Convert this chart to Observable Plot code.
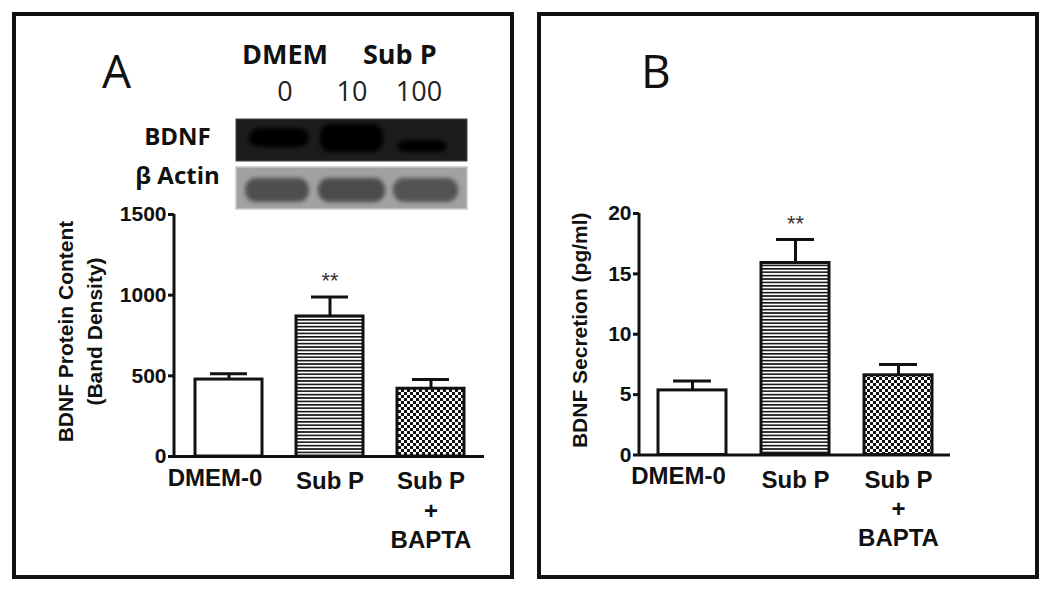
<!DOCTYPE html>
<html><head><meta charset="utf-8">
<script src="https://cdn.jsdelivr.net/npm/d3@7"></script>
<script src="https://cdn.jsdelivr.net/npm/@observablehq/plot@0.6"></script>
<style>
html,body{margin:0;padding:0;background:#fff;}
#root{position:relative;width:1050px;height:591px;overflow:hidden;background:#fff;}
.panel{position:absolute;box-sizing:border-box;border:4px solid #111;top:12px;width:502px;height:567px;}
.letter{position:absolute;font-family:"Open Sans","Noto Sans",sans-serif;font-size:46px;line-height:46px;color:#111;}
.chart{position:absolute;}
</style></head><body>
<div id="root">
<svg width="0" height="0" style="position:absolute">
<defs>
<pattern id="hstripes" patternUnits="userSpaceOnUse" width="8" height="3.4"><rect width="8" height="3.4" fill="#fff"/><rect width="8" height="1.6" fill="#111"/></pattern>
<pattern id="checker" patternUnits="userSpaceOnUse" width="6" height="6"><rect width="6" height="6" fill="#fff"/><rect width="3" height="3" fill="#111"/><rect x="3" y="3" width="3" height="3" fill="#111"/></pattern>
<filter id="soft" x="-20%" y="-50%" width="140%" height="200%"><feGaussianBlur stdDeviation="2.2"/></filter>
</defs></svg>
<div class="panel" style="left:12px"></div>
<div class="panel" style="left:537px"></div>
<div class="letter" style="left:102px;top:47px">A</div>
<div class="letter" style="left:641px;top:47px">B</div>
<div id="blot" class="chart" style="left:120px;top:20px"></div>
<div id="chartA" class="chart" style="left:20px;top:200px"></div>
<div id="chartB" class="chart" style="left:540px;top:200px"></div>
</div>
<script>
// ---- data ----
const categories = ["DMEM-0", "Sub P", "Sub P\n+\nBAPTA"];
const proteinMean = [477, 868, 420];
const proteinSem = [36, 120, 57];
const secretionMean = [5.35, 15.9, 6.6];
const secretionSem = [0.77, 1.95, 0.9];
const significance = ["", "**", ""];
const proteinTicks = [0, 500, 1000, 1500];
const secretionTicks = [0, 5, 10, 15, 20];
const proteinLabel = "BDNF Protein Content\n(Band Density)";
const secretionLabel = "BDNF Secretion (pg/ml)";
const blotLanes = ["0", "10", "100"];
const blotRows = ["BDNF", "β Actin"];
const blotGroups = ["DMEM", "Sub P"];

const fills = ["#ffffff", "url(#hstripes)", "url(#checker)"];

function yAxisLine(yMax) {
  return (index, scales, values, dims) => {
    const ns = "http://www.w3.org/2000/svg";
    const l = document.createElementNS(ns, "line");
    const x = dims.marginLeft;
    const y0 = typeof scales.y === "function" ? scales.y(0) : dims.height - dims.marginBottom;
    const y1 = typeof scales.y === "function" ? scales.y(yMax) : dims.marginTop;
    l.setAttribute("x1", x); l.setAttribute("x2", x);
    l.setAttribute("y1", y0 + 1.5); l.setAttribute("y2", y1);
    l.setAttribute("stroke", "#111"); l.setAttribute("stroke-width", 3);
    return l;
  };
}

function barChart({means, sems, ticks, label, labelDx, dims, pad}) {
  const data = categories.map((c, i) => ({cat: c, mean: means[i], sem: sems[i], sig: significance[i]}));
  const yMax = ticks[ticks.length - 1];
  return Plot.plot({
    width: dims.width, height: dims.height,
    marginLeft: dims.ml, marginRight: dims.mr, marginTop: dims.mt, marginBottom: dims.mb,
    style: {background: "transparent", fontFamily: "'Liberation Sans', Arial, sans-serif", fontWeight: "bold", fontSize: "21px", color: "#111", overflow: "visible"},
    x: {type: "band", domain: categories, paddingInner: pad.inner, paddingOuter: pad.outer, axis: null},
    y: {domain: [0, yMax], axis: null},
    color: {type: "ordinal", domain: categories, range: fills},
    marks: [
      Plot.ruleX(data, {x: "cat", y1: "mean", y2: d => d.mean + d.sem, stroke: "#111", strokeWidth: 3}),
      Plot.tickY(data, {x: "cat", y: d => d.mean + d.sem, stroke: "#111", strokeWidth: 3, insetLeft: 15, insetRight: 15}),
      Plot.barY(data, {x: "cat", y: "mean", fill: "cat", stroke: "#111", strokeWidth: 3}),
      Plot.ruleY([0], {stroke: "#111", strokeWidth: 3}),
      yAxisLine(yMax),
      Plot.axisY({ticks, tickFormat: d3.format("d"), tickSize: 6, tickPadding: 2, strokeWidth: 3, label: null, fontSize: 21, fontWeight: "bold"}),
      Plot.text([label], {text: d => d, frameAnchor: "left", rotate: -90, dx: labelDx, dy: -4, textAnchor: "middle", lineAnchor: "middle", lineHeight: 1.38, fontSize: 21, fontWeight: "bold", fill: "#111"}),
      Plot.text(data.slice(0, 1), {x: "cat", text: "cat", frameAnchor: "bottom", lineAnchor: "top", dy: 12, dx: -14, fontSize: 24, fontWeight: "bold", fill: "#111"}),
      Plot.text(data.slice(1), {x: "cat", text: "cat", frameAnchor: "bottom", lineAnchor: "top", dy: 12, lineHeight: 1.22, fontSize: 24, fontWeight: "bold", fill: "#111"}),
      Plot.text(data, {x: "cat", y: d => d.mean + d.sem, text: "sig", dy: -16, lineAnchor: "middle", fontSize: 22, fontWeight: "normal", fill: "#333"})
    ]
  });
}

document.getElementById("chartA").append(barChart({
  means: proteinMean, sems: proteinSem, ticks: proteinTicks, label: proteinLabel, labelDx: -96,
  dims: {width: 480, height: 370, ml: 154, mr: 16, mt: 14, mb: 114},
  pad: {inner: 0.34, outer: 0.19}
}));
document.getElementById("chartB").append(barChart({
  means: secretionMean, sems: secretionSem, ticks: secretionTicks, label: secretionLabel, labelDx: -62,
  dims: {width: 460, height: 370, ml: 99, mr: 50, mt: 13, mb: 115.5},
  pad: {inner: 0.344, outer: 0.172}
}));

// ---- western blot inset ----
function band(lane, row, fill, ins) {
  return Plot.cell([lane], {x: d => d, y: () => row, fill, rx: 11, ...ins});
}
const blot = Plot.plot({
  width: 360, height: 200, marginLeft: 116, marginRight: 13, marginTop: 99, marginBottom: 11,
  style: {background: "transparent", fontFamily: "'Open Sans', 'Noto Sans', sans-serif", color: "#111", overflow: "visible"},
  x: {type: "band", domain: blotLanes, paddingInner: 0, paddingOuter: 0.2, axis: null},
  y: {type: "band", domain: blotRows, paddingInner: 0.125, paddingOuter: 0, axis: null},
  marks: [
    Plot.cell([blotRows[0]], {y: d => d, fill: "#1c1c1c", stroke: "#444", strokeWidth: 1}),
    Plot.cell([blotRows[1]], {y: d => d, fill: "#a2a2a2", stroke: "#c9c9c9", strokeWidth: 1.5}),
    band(blotLanes[0], blotRows[0], "#020202", {insetLeft: -2, insetRight: 9, insetTop: 9, insetBottom: 14}),
    band(blotLanes[1], blotRows[0], "#000000", {insetLeft: 2, insetRight: 2, insetTop: 5, insetBottom: 9}),
    band(blotLanes[2], blotRows[0], "#030303", {insetLeft: 12, insetRight: 5, insetTop: 21, insetBottom: 9}),
    band(blotLanes[0], blotRows[1], "#505050", {insetLeft: -6, insetRight: 9, insetTop: 11, insetBottom: 7}),
    band(blotLanes[1], blotRows[1], "#4c4c4c", {insetLeft: 0, insetRight: 0, insetTop: 11, insetBottom: 7}),
    band(blotLanes[2], blotRows[1], "#535353", {insetLeft: 8, insetRight: -6, insetTop: 11, insetBottom: 7}),
    Plot.text([blotRows[0]], {y: d => d, text: d => d, frameAnchor: "left", dx: -59, dy: -3, textAnchor: "middle", lineAnchor: "middle", fontSize: 24, fontWeight: "bold", fill: "#111"}),
    Plot.text([blotRows[1]], {y: d => d, text: d => d, frameAnchor: "left", dx: -59, dy: -12, textAnchor: "middle", lineAnchor: "middle", fontSize: 24, fontWeight: "bold", fill: "#111"}),
    Plot.text(blotLanes, {x: d => d, text: d => d, frameAnchor: "top", lineAnchor: "bottom", dy: -19, fontSize: 27, fill: "#222"}),
    Plot.text([blotGroups[0]], {x: () => blotLanes[0], text: d => d, frameAnchor: "top", lineAnchor: "bottom", dy: -56, fontSize: 27, fontWeight: "bold", fill: "#111"}),
    Plot.text([blotGroups[1]], {x: () => blotLanes[1], text: d => d, frameAnchor: "top", lineAnchor: "bottom", textAnchor: "start", dx: 11, dy: -56, fontSize: 27, fontWeight: "bold", fill: "#111"})
  ]
});
d3.select(blot).selectAll("rect[rx]").attr("filter", "url(#soft)");
document.getElementById("blot").append(blot);
</script>
</body></html>
